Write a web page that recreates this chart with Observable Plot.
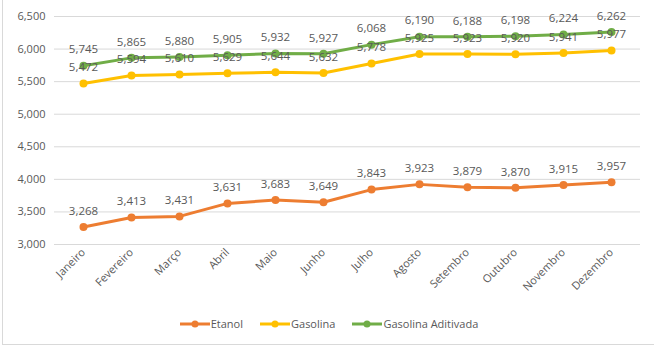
<!DOCTYPE html>
<html>
<head>
<meta charset="utf-8">
<script src="https://cdn.jsdelivr.net/npm/d3@7"></script>
<script src="https://cdn.jsdelivr.net/npm/@observablehq/plot@0.6"></script>
<style>
  html, body { margin: 0; padding: 0; background: #fff; }
  #wrap { position: absolute; left: 2px; top: 0; width: 652px; height: 344px;
          border-left: 1px solid #d9d9d9; border-bottom: 1px solid #d9d9d9; }
  #chart { position: absolute; left: -5px; top: 0; }
  #legend { position: absolute; top: 316px; left: 0; width: 652px; display: flex; justify-content: center;
            font-family: "Open Sans", sans-serif; font-size: 11px; color: #595959; gap: 17px; }
  .item { display: flex; align-items: center; }
  .item svg { margin-right: 1px; }
</style>
</head>
<body>
<div id="wrap"><div id="chart"></div><div id="legend"></div></div>
<script>
const months = ["Janeiro","Fevereiro","Março","Abril","Maio","Junho","Julho","Agosto","Setembro","Outubro","Novembro","Dezembro"];
const etanol = [3268,3413,3431,3631,3683,3649,3843,3923,3879,3870,3915,3957];
const gasolina = [5472,5594,5610,5629,5644,5632,5778,5925,5923,5920,5941,5977];
const gasolinaAditivada = [5745,5865,5880,5905,5932,5927,6068,6190,6188,6198,6224,6262];
const seriesNames = ["Etanol","Gasolina","Gasolina Aditivada"];
const seriesColors = ["#ED7D31","#FFC000","#70AD47"];
const yTicks = [3000,3500,4000,4500,5000,5500,6000,6500];

const allSeries = [etanol, gasolina, gasolinaAditivada];
const data = [];
allSeries.forEach((vals, si) => vals.forEach((v, i) => data.push({series: seriesNames[si], month: months[i], value: v})));

const fmt = d3.format(",");
const font = "Open Sans, sans-serif";

const plot = Plot.plot({
  width: 657,
  height: 305,
  marginLeft: 56,
  marginRight: 15,
  marginTop: 16,
  marginBottom: 61,
  style: {fontFamily: font, fontSize: "11px", color: "#595959", background: "transparent"},
  x: {type: "point", domain: months, padding: 0.5, label: null},
  y: {domain: [3000, 6500], label: null},
  color: {domain: seriesNames, range: seriesColors},
  marks: [
    Plot.gridY(yTicks, {stroke: "#d9d9d9", strokeOpacity: 1, strokeWidth: 1}),
    Plot.axisY(yTicks, {tickSize: 0, tickPadding: 9, tickFormat: fmt, fill: "#595959", fontSize: 11}),
    Plot.axisX({tickSize: 0, tickRotate: -45, tickPadding: 6, fill: "#595959", fontSize: 11}),
    Plot.line(data, {x: "month", y: "value", z: "series", stroke: "series", strokeWidth: 3, curve: "linear"}),
    Plot.dot(data, {x: "month", y: "value", fill: "series", r: 4}),
    Plot.text(data, {x: "month", y: "value", text: d => fmt(d.value), dy: -16, fill: "#595959", fontSize: 11.5})
  ]
});
document.getElementById("chart").appendChild(plot);

const legend = document.getElementById("legend");
seriesNames.forEach((name, i) => {
  const item = document.createElement("div");
  item.className = "item";
  item.innerHTML = `<svg width="30" height="10"><line x1="0" y1="5" x2="30" y2="5" stroke="${seriesColors[i]}" stroke-width="3"/><circle cx="15" cy="5" r="3.5" fill="${seriesColors[i]}"/></svg><span>${name}</span>`;
  legend.appendChild(item);
});
</script>
</body>
</html>
